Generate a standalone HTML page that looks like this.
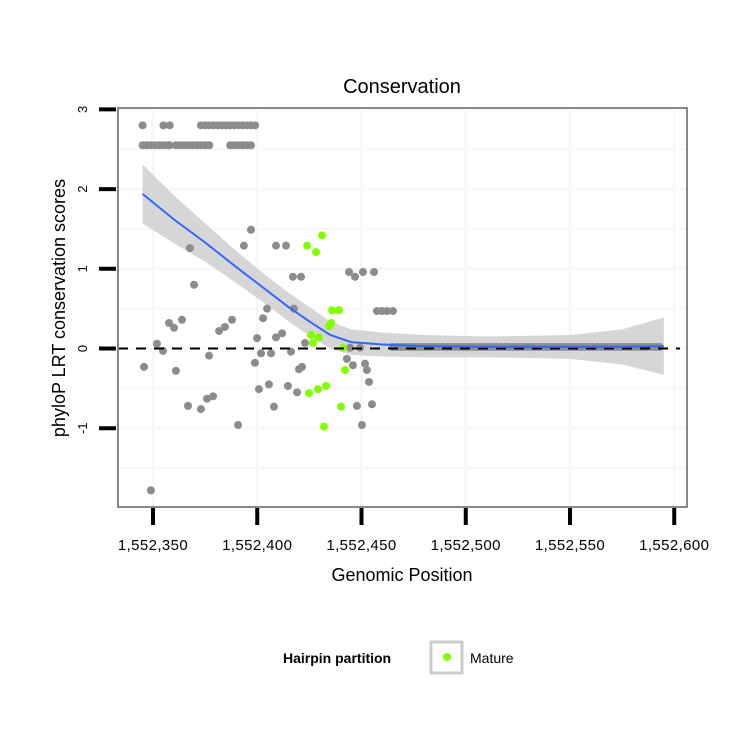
<!DOCTYPE html>
<html><head><meta charset="utf-8"><style>
body{margin:0;background:#fff}
svg{display:block;font-family:"Liberation Sans",sans-serif}
</style></head><body>
<svg id="c" width="750" height="750" xmlns="http://www.w3.org/2000/svg">
<text x="402" y="93" font-size="20" text-anchor="middle">Conservation</text>
<text x="402" y="581" font-size="18" text-anchor="middle">Genomic Position</text>
<text transform="translate(65,308) rotate(-90)" font-size="18" text-anchor="middle">phyloP LRT conservation scores</text>
<g id="grid"></g><g id="band"></g><g id="pts"></g><g id="axes"></g>
<g>
<text x="283" y="663" font-size="14" font-weight="bold">Hairpin partition</text>
<rect x="431" y="642" width="31" height="31" fill="#fff" stroke="#cccccc" stroke-width="3"/>
<circle cx="447" cy="657" r="4" fill="#7fff00"/>
<text x="470" y="663" font-size="14">Mature</text>
</g>
</svg>
<script>
const X0=1552350;
const xTicks=[1552350,1552400,1552450,1552500,1552550,1552600];
const xTickLabels=["1,552,350","1,552,400","1,552,450","1,552,500","1,552,550","1,552,600"];
const yTicks=[-1,0,1,2,3];
const grayX=[-4.3,-1,1.9,4.8,7.7,10.1,11,13.9,16.8,17.7,19.7,23,25.9,26.9,28.8,31.7,34.5,37.9,40.8,43.6,47,48.9,49.9,50.8,51.8,52.8,54.7,55.6,56.6,58,59,59,61.9,63.8,64.7,66.2,67.1,67.6,69.1,70,71,71.5,72.9,93,94,94.5,95.9,96.9,97.8,99.3,100.2,100.7,101.7,102.6,103.6,105,106,107.4,109.8,112.2,115.1];
const grayY=[-0.23,-1.78,0.06,-0.03,0.32,0.26,-0.28,0.36,-0.72,1.26,0.8,-0.76,-0.63,-0.09,-0.6,0.22,0.27,0.36,-0.96,1.29,1.49,-0.18,0.13,-0.51,-0.06,0.38,0.5,-0.45,-0.06,-0.73,0.14,1.29,0.19,1.29,-0.47,-0.04,0.9,0.5,-0.55,-0.26,0.9,-0.23,0.07,-0.13,0.96,0.01,-0.21,0.9,-0.72,0.01,-0.96,0.96,-0.19,-0.27,-0.42,-0.7,0.96,0.47,0.47,0.47,0.47];
const topRowX=[-5,5,8,23,25,27,29,31,33,35,37,39,41,43,45,47,49];
const secondRowX=[-5,-3,-1,1,3,5,7,8,11,13,15,17,19,21,23,25,27,37,39,41,43,45,47];
const zeroBandX=[];for(let v=115;v<=244;v+=2)zeroBandX.push(v);
const greenX=[81.1,73.9,78.2,85.9,89.2,84.4,85.4,75.8,79.6,76.7,91.1,92.1,74.8,79.1,83,90.2,82];
const greenY=[1.42,1.29,1.21,0.48,0.48,0.28,0.32,0.17,0.14,0.07,0.01,-0.27,-0.56,-0.51,-0.47,-0.73,-0.98];
const fitX=[-5,10,25,40,55,65,75,85,95,110,130,160,200,225,245];
const fitY=[1.94,1.62,1.33,1.02,0.72,0.52,0.34,0.17,0.08,0.05,0.03,0.02,0.02,0.02,0.03];
const fitSE=[0.37,0.3,0.24,0.2,0.18,0.18,0.18,0.17,0.16,0.15,0.14,0.13,0.15,0.22,0.36];
const NS="http://www.w3.org/2000/svg";
const sx=d=>153+d*2.085, sy=v=>348.5-v*79.7;
const L=118,R=687,T=108,B=507;
function mk(p,t,a){const e=document.createElementNS(NS,t);for(const k in a)e.setAttribute(k,a[k]);document.getElementById(p).appendChild(e);return e;}
for(let i=0;i<xTicks.length;i++){const x=sx(xTicks[i]-X0);let e=mk('grid','line',{x1:x,x2:x,y1:T,y2:B,stroke:'#f7f7f7','stroke-width':3});

}
for(let v=-1.5;v<=3;v+=0.5){const y=sy(v);let e=mk('grid','line',{x1:L,x2:R,y1:y,y2:y,stroke:'#f8f8f8','stroke-width':v%1===0?3:2});

}
let up=[],lo=[],ln=[];
for(let i=0;i<fitX.length;i++){up.push(sx(fitX[i])+','+sy(fitY[i]+fitSE[i]));lo.unshift(sx(fitX[i])+','+sy(fitY[i]-fitSE[i]));ln.push(sx(fitX[i])+','+sy(fitY[i]));}
let band=mk('band','polygon',{points:up.concat(lo).join(' '),fill:'#cccccc','fill-opacity':0.8});


function pt(x,y,c,name){const e=mk('pts','circle',{cx:sx(x),cy:sy(y),r:4,fill:c});

}
topRowX.forEach(x=>pt(x,2.8,'#8c8c8c','point-other'));
secondRowX.forEach(x=>pt(x,2.55,'#8c8c8c','point-other'));
grayX.forEach((x,i)=>pt(x,grayY[i],'#8c8c8c','point-other'));
zeroBandX.forEach(x=>pt(x,0.02,'#8c8c8c','point-other'));
greenX.forEach((x,i)=>pt(x,greenY[i],'#7fff00','point-mature'));
let zl=mk('pts','line',{x1:L,x2:680,y1:sy(0),y2:sy(0),stroke:'#000','stroke-width':2,'stroke-dasharray':'10 8'});


let fl=mk('pts','polyline',{points:ln.join(' '),fill:'none',stroke:'#3366ff','stroke-width':2});


let fr=mk('axes','rect',{x:L,y:T,width:R-L,height:B-T,fill:'none',stroke:'#888','stroke-width':2});


xTicks.forEach((t,i)=>{const x=sx(t-X0);let tk=mk('axes','line',{x1:x,x2:x,y1:B+1,y2:B+18,stroke:'#000','stroke-width':4});


let lb=mk('axes','text',{x:x,y:550,'font-size':15,'letter-spacing':0.4,'text-anchor':'middle'});lb.textContent=xTickLabels[i];

});
yTicks.forEach(v=>{const y=sy(v);let tk=mk('axes','line',{x1:99,x2:116,y1:y,y2:y,stroke:'#000','stroke-width':4});


let lb=mk('axes','text',{transform:`translate(87,${y}) rotate(-90)`,'font-size':13,'text-anchor':'middle'});lb.textContent=String(v);

});
</script>
</body></html>
